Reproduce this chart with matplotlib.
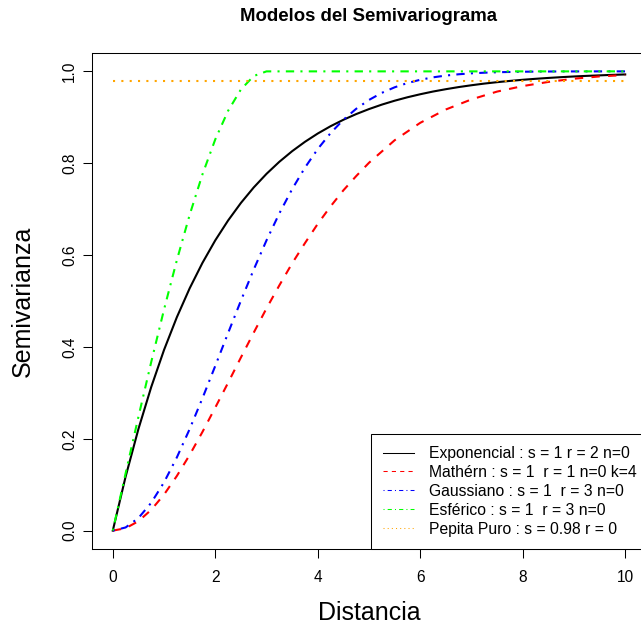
import matplotlib
matplotlib.use("Agg")
import matplotlib.pyplot as plt
from matplotlib.lines import Line2D

# ======================================
# DATA
# ======================================
dist_q = [0, 0.25, 0.5, 0.75, 1.0, 1.25, 1.5, 1.75, 2.0, 2.25, 2.5, 2.75, 3.0,
          3.25, 3.5, 3.75, 4.0, 4.25, 4.5, 4.75, 5.0, 5.25, 5.5, 5.75, 6.0,
          6.25, 6.5, 6.75, 7.0, 7.25, 7.5, 7.75, 8.0, 8.25, 8.5, 8.75, 9.0,
          9.25, 9.5, 9.75, 10.0]

exponencial = [0, 0.1175, 0.2212, 0.3127, 0.3935, 0.4647, 0.5276, 0.5831,
               0.6321, 0.6753, 0.7135, 0.7472, 0.7769, 0.8031, 0.8262, 0.8466,
               0.8647, 0.8806, 0.8946, 0.9070, 0.9179, 0.9276, 0.9361, 0.9436,
               0.9502, 0.9561, 0.9612, 0.9658, 0.9698, 0.9734, 0.9765, 0.9792,
               0.9817, 0.9838, 0.9857, 0.9874, 0.9889, 0.9902, 0.9913, 0.9924,
               0.9933]

gaussiano = [0, 0.0069, 0.0274, 0.0606, 0.1052, 0.1594, 0.2212, 0.2884,
             0.3588, 0.4302, 0.5006, 0.5684, 0.6321, 0.6907, 0.7436, 0.7904,
             0.8310, 0.8656, 0.8946, 0.9185, 0.9378, 0.9532, 0.9653, 0.9746,
             0.9817, 0.9870, 0.9909, 0.9937, 0.9957, 0.9971, 0.9981, 0.9987,
             0.9992, 0.9995, 0.9997, 0.9998, 0.9999, 0.9999, 1.0, 1.0, 1.0]

dist_m = [0, 0.25, 0.5, 0.75, 1.0, 1.25, 1.5, 1.75, 2.0, 2.25, 2.5, 2.75, 3.0,
          3.25, 3.5, 3.75, 4.0, 4.25, 4.5, 4.75, 5.0, 5.5, 6.0, 6.5, 7.0,
          7.5, 8.0, 8.5, 9.0, 9.5, 10.0]
matern = [0, 0.0052, 0.0205, 0.0453, 0.0785, 0.119, 0.1648, 0.215, 0.268,
          0.322, 0.377, 0.431, 0.484, 0.534, 0.582, 0.626, 0.668, 0.706,
          0.741, 0.772, 0.801, 0.850, 0.888, 0.917, 0.939, 0.956, 0.968,
          0.977, 0.984, 0.989, 0.992]

dist_e = [0, 0.25, 0.5, 0.75, 1.0, 1.25, 1.5, 1.75, 2.0, 2.25, 2.5, 2.75,
          3.0, 10.0]
esferico = [0, 0.1247, 0.2477, 0.3672, 0.4815, 0.5888, 0.6875, 0.7758,
            0.8519, 0.9141, 0.9606, 0.9899, 1.0, 1.0]

dist_p = [0, 10.0]
pepita = [0.98, 0.98]

labels = [
    "Exponencial : s = 1 r = 2 n=0",
    "Mathérn : s = 1  r = 1 n=0 k=4",
    "Gaussiano : s = 1  r = 3 n=0",
    "Esférico : s = 1  r = 3 n=0",
    "Pepita Puro : s = 0.98 r = 0",
]
colors = ["black", "red", "blue", "#00FF00", "orange"]
styles = ["-", (0, (4, 4)), (0, (1, 3, 4, 3)), (0, (1, 3, 4, 3)), (0, (1, 3))]

# ======================================
# FIGURE
# ======================================
plt.rcParams["font.family"] = ["Liberation Sans", "DejaVu Sans"]

W, H = 641, 626
fig = plt.figure(figsize=(W / 100, H / 100), dpi=100)
ax_w = 645.7 - 92.3
ax = fig.add_axes([92.3 / W, (H - 549) / H, ax_w / W, (549 - 53) / H])

series = [(dist_q, exponencial), (dist_m, matern), (dist_q, gaussiano),
          (dist_e, esferico), (dist_p, pepita)]
for (xs, ys), c, ls in zip(series, colors, styles):
    ax.plot(xs, ys, color=c, linestyle=ls, linewidth=1.5)

ax.set_xlim(-0.4, 10.4)
ax.set_ylim(-0.04, 1.04)
ax.set_xticks([0, 2, 4, 6, 8, 10])
ax.set_yticks([0.0, 0.2, 0.4, 0.6, 0.8, 1.0])
ax.set_yticklabels(["0.0", "0.2", "0.4", "0.6", "0.8", "1.0"],
                   rotation=90, va="center")
ax.tick_params(length=6.5, width=0.75, labelsize=11.2)
ax.tick_params(axis="x", pad=8.5)
ax.tick_params(axis="y", pad=4.5)
for sp in ax.spines.values():
    sp.set_linewidth(0.75)

fig.text(369 / W, 1 - 20.7 / H, "Modelos del Semivariograma",
         ha="center", va="baseline", fontsize=13.4, fontweight="bold")
fig.text(369 / W, 1 - 620 / H, "Distancia", ha="center", va="baseline",
         fontsize=18)
fig.text(23.3 / W, 1 - 301 / H, "Semivarianza", ha="center", va="center",
         rotation=90, fontsize=18)

# legend with thin lines (its right edge runs off the picture, as in the reference)
handles = [Line2D([], [], color=c, linestyle=ls, linewidth=0.75)
           for c, ls in zip(colors, styles)]
leg = ax.legend(handles, labels, loc="lower right",
                bbox_to_anchor=(1 + 3 / ax_w, 0),
                borderaxespad=0, fancybox=False, edgecolor="black",
                framealpha=1, fontsize=11.3, handlelength=1.93,
                handletextpad=0.96, borderpad=0.78, labelspacing=0.25)
leg.get_frame().set_linewidth(0.75)

fig.savefig("out.png", dpi=100)
